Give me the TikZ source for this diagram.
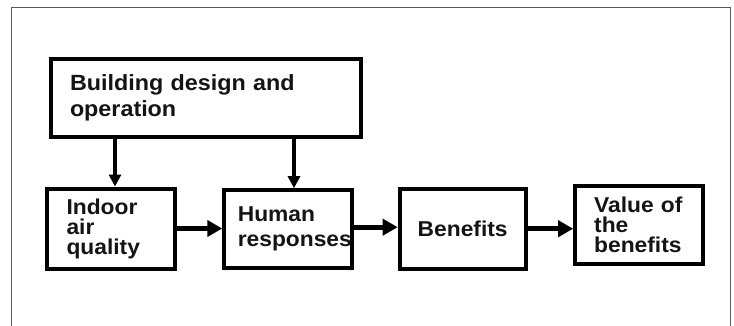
\documentclass[tikz,border=0pt]{standalone}
\usepackage{fontspec}
\setmainfont[FakeStretch=1.06]{Liberation Sans}
\usetikzlibrary{arrows.meta}
\begin{document}
\begin{tikzpicture}[x=1pt,y=-1pt,
  box/.style={draw=black, line width=4pt, fill=white, rectangle, inner sep=0pt, text=black!92},
  harr/.style={line width=5pt, -{Triangle[length=15pt,width=16pt]}},
  varr/.style={line width=4pt, -{Triangle[length=12pt,width=12pt]}}]
\useasboundingbox (0,0) rectangle (734,325);
\draw[black!65, line width=1pt] (11,340) -- (11,7) -- (730,7) -- (730,340);
\node[box, minimum width=310pt, minimum height=78pt, text width=272pt, align=left,
  font=\fontsize{22}{26}\selectfont\bfseries] (top) at (206,98) {Building design and\\operation};
\node[box, minimum width=128pt, minimum height=80pt, text width=89pt, align=left,
  font=\fontsize{21.5}{20}\selectfont\bfseries] (iaq) at (111,228.5) {Indoor\\air\\quality};
\node[box, minimum width=128pt, minimum height=78pt, text width=101pt, align=left,
  font=\fontsize{21.5}{25}\selectfont\bfseries] (hum) at (288.3,229.2) {Human\\responses};
\node[box, minimum width=126pt, minimum height=80pt, text width=100pt, align=center,
  font=\fontsize{21.5}{24}\selectfont\bfseries] (ben) at (462.7,228.7) {Benefits};
\node[box, minimum width=128pt, minimum height=78pt, text width=90pt, align=left,
  font=\fontsize{21.5}{20}\selectfont\bfseries] (val) at (639.2,224.5) {Value of\\the\\benefits};
\draw[varr] ([xshift=4pt]iaq.north |- top.south) -- ([xshift=4pt]iaq.north);
\draw[varr] ([xshift=5.7pt]hum.north |- top.south) -- ([xshift=5.7pt]hum.north);
\draw[harr] (iaq.east) -- (hum.west |- iaq.east);
\draw[harr] ([yshift=2pt]hum.east) -- ([yshift=2pt]ben.west |- hum.east);
\draw[harr] (ben.east) -- (val.west |- ben.east);
\end{tikzpicture}
\end{document}
